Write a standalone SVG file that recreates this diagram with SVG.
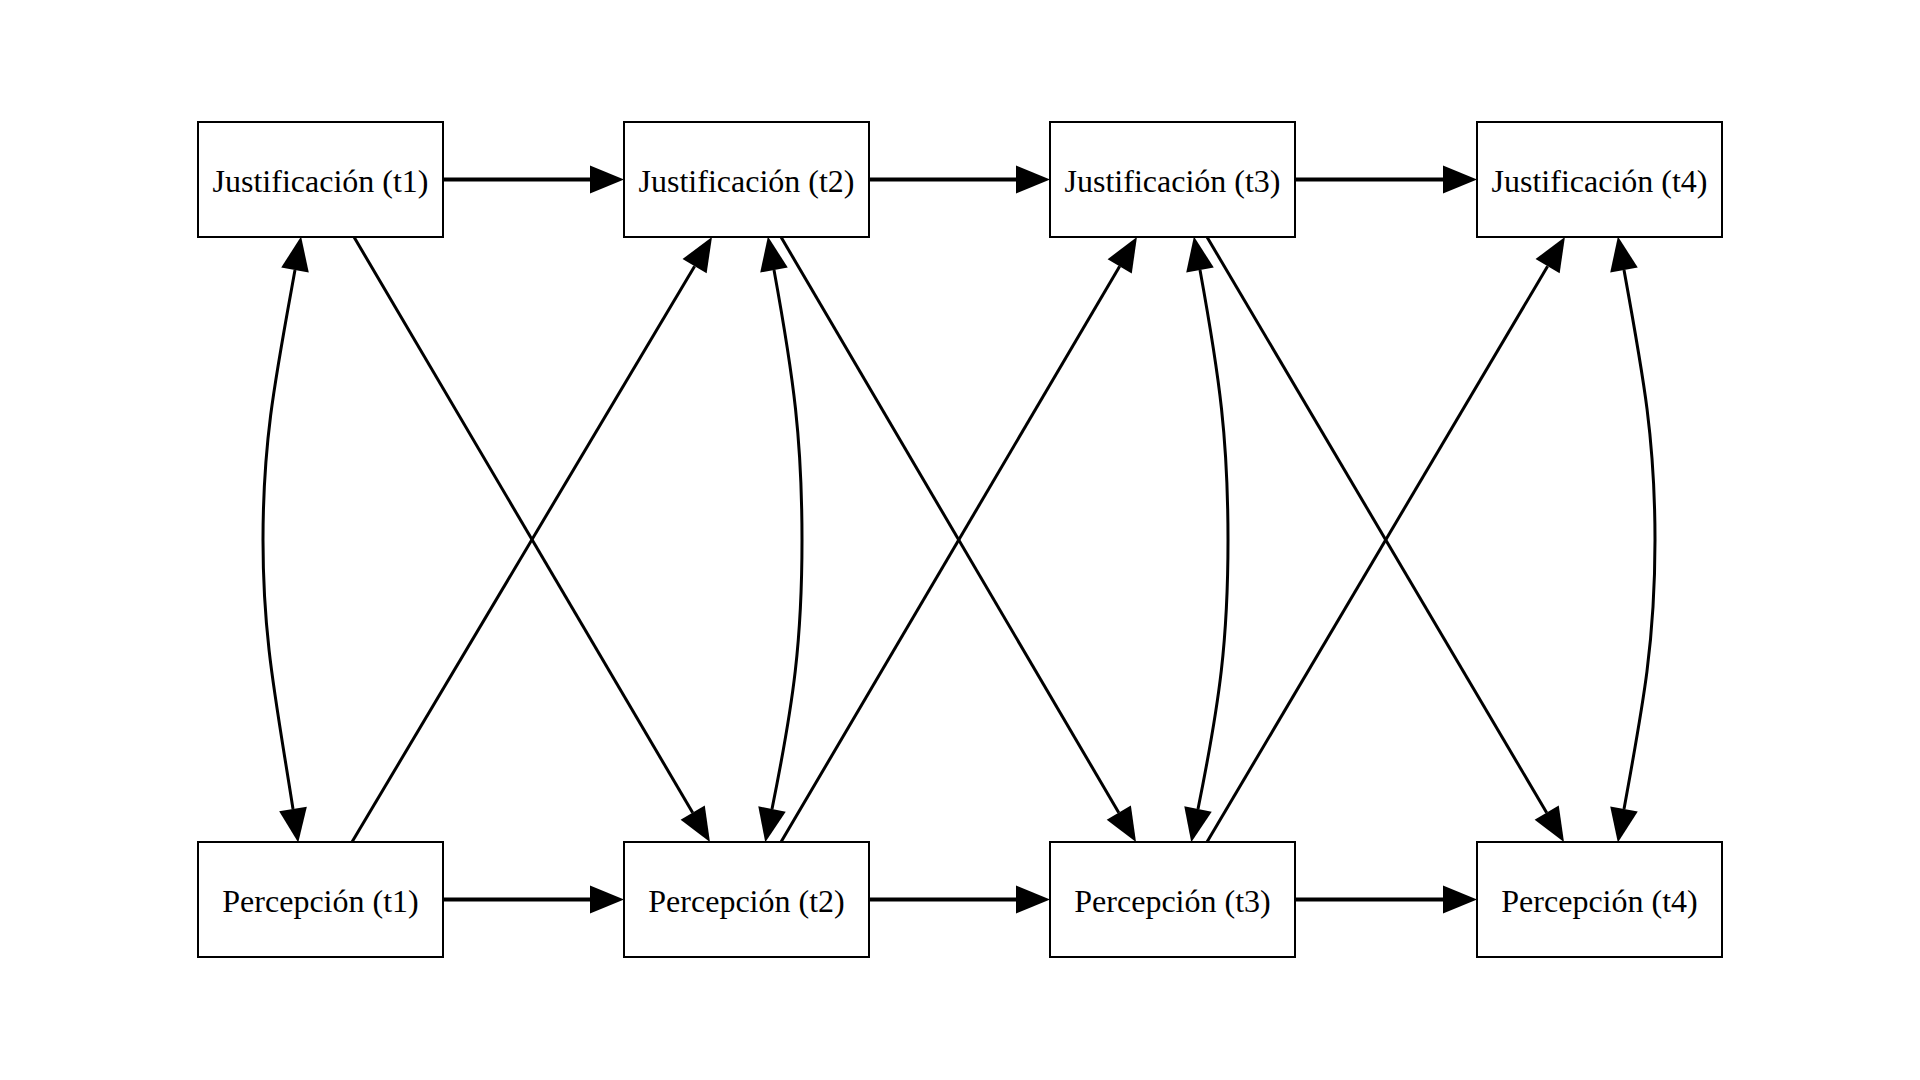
<svg xmlns="http://www.w3.org/2000/svg" width="1920" height="1080" viewBox="0 0 1920 1080">
<style>
.box{fill:#fff;stroke:#000;stroke-width:2}
.lbl{font-family:"Liberation Serif","Times New Roman",serif;font-size:32px;fill:#000;text-anchor:middle}
.h{fill:none;stroke:#000;stroke-width:4;marker-end:url(#ah)}
.d{fill:none;stroke:#000;stroke-width:3;marker-end:url(#ah)}
.c{fill:none;stroke:#000;stroke-width:3;marker-start:url(#ah);marker-end:url(#ah)}
</style>
<defs>
<marker id="ah" markerUnits="userSpaceOnUse" markerWidth="36" markerHeight="30" refX="0" refY="14" orient="auto-start-reverse" viewBox="0 0 36 28" overflow="visible">
<path d="M0,0 L34,14 L0,28 z" fill="#000"/>
</marker>
</defs>
<rect width="1920" height="1080" fill="#fff"/>
<g id="connectors">
<path class="h" d="M443,179.5 L590,179.5"/>
<path class="h" d="M869,179.5 L1016,179.5"/>
<path class="h" d="M1295,179.5 L1443,179.5"/>
<path class="h" d="M443,899.5 L590,899.5"/>
<path class="h" d="M869,899.5 L1016,899.5"/>
<path class="h" d="M1295,899.5 L1443,899.5"/>
<path class="d" d="M354,237 L692.7,812.7"/>
<path class="d" d="M781,237 L1118.8,812.7"/>
<path class="d" d="M1207,237 L1546.7,812.7"/>
<path class="d" d="M352,842 L694.6,266.2"/>
<path class="d" d="M781,842 L1119.7,266.3"/>
<path class="d" d="M1207,842 L1547.6,266.2"/>
<path class="c" d="M295,270 C275,380 263,440 263,540 C263,640 276,700 293,809"/>
<path class="c" d="M774,270 C794,380 802,440 802,540 C802,640 794,700 772,809"/>
<path class="c" d="M1200,270 C1220,380 1228,440 1228,540 C1228,640 1220,700 1198,809"/>
<path class="c" d="M1624,270 C1644,380 1655,440 1655,540 C1655,640 1644,700 1624,809"/>
</g>
<g id="J1"><rect class="box" x="198" y="122" width="245" height="115"/><text class="lbl" x="320.5" y="191.5">Justificación (t1)</text></g>
<g id="J2"><rect class="box" x="624" y="122" width="245" height="115"/><text class="lbl" x="746.5" y="191.5">Justificación (t2)</text></g>
<g id="J3"><rect class="box" x="1050" y="122" width="245" height="115"/><text class="lbl" x="1172.5" y="191.5">Justificación (t3)</text></g>
<g id="J4"><rect class="box" x="1477" y="122" width="245" height="115"/><text class="lbl" x="1599.5" y="191.5">Justificación (t4)</text></g>
<g id="P1"><rect class="box" x="198" y="842" width="245" height="115"/><text class="lbl" x="320.5" y="911.5">Percepción (t1)</text></g>
<g id="P2"><rect class="box" x="624" y="842" width="245" height="115"/><text class="lbl" x="746.5" y="911.5">Percepción (t2)</text></g>
<g id="P3"><rect class="box" x="1050" y="842" width="245" height="115"/><text class="lbl" x="1172.5" y="911.5">Percepción (t3)</text></g>
<g id="P4"><rect class="box" x="1477" y="842" width="245" height="115"/><text class="lbl" x="1599.5" y="911.5">Percepción (t4)</text></g>
</svg>
